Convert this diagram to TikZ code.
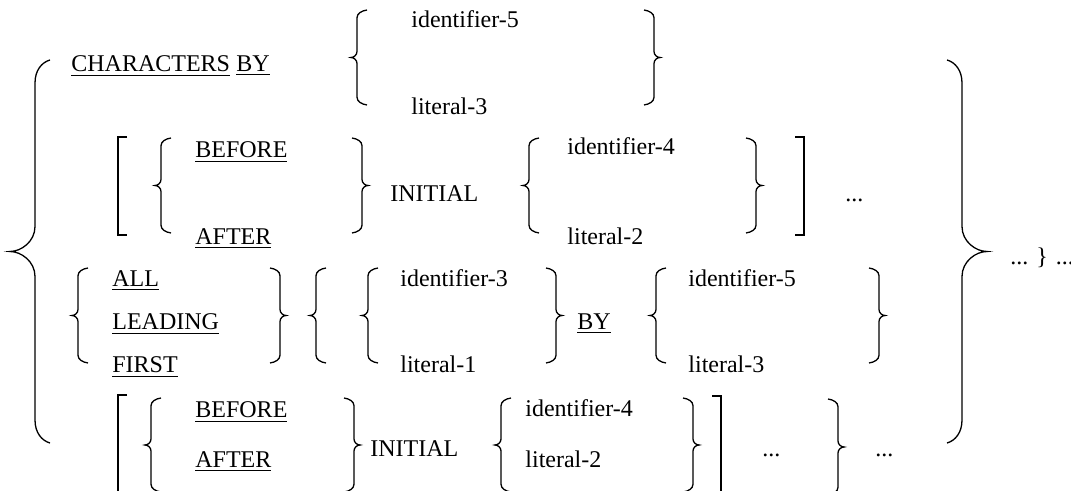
\documentclass[tikz,border=0pt]{standalone}
\usepackage{fontspec}
\setmainfont{Liberation Serif}

% curly brace: tip x, top y, bottom y, side (1 open / -1 close), stem offset, arm length
\newcommand{\curly}[6]{%
  \pgfmathsetmacro{\brS}{#1+#4*#5}%
  \pgfmathsetmacro{\brE}{#1+#4*#6}%
  \pgfmathsetmacro{\brA}{\brS+0.45*(\brE-\brS)}%
  \pgfmathsetmacro{\brT}{#1+0.45*(\brS-#1)}%
  \pgfmathsetmacro{\brM}{(#2+#3)/2}%
  \pgfmathsetmacro{\brC}{0.8*#5+3}%
  \draw[brc] (\brE,#2) .. controls (\brA,{#2+0.1*\brC}) and (\brS,{#2+0.45*\brC}) .. (\brS,{#2+\brC})
    -- (\brS,{\brM-#5}) .. controls (\brS,{\brM-0.4*#5}) and (\brT,\brM) .. (#1,\brM)
    .. controls (\brT,\brM) and (\brS,{\brM+0.4*#5}) .. (\brS,{\brM+#5})
    -- (\brS,{#3-\brC}) .. controls (\brS,{#3-0.45*\brC}) and (\brA,{#3-0.1*\brC}) .. (\brE,#3);}
\newcommand{\cbr}[4]{\curly{#1}{#2}{#3}{#4}{6}{16}}
% square bracket: stem x, top y, bottom y, side
\newcommand{\sqbr}[4]{\draw[brk] ({#1+#4*9},#2) -- (#1,#2) -- (#1,#3) -- ({#1+#4*9},#3);}

\begin{document}
\begin{tikzpicture}[x=0.5pt,y=-0.5pt,
  brc/.style={line width=0.65pt},
  brk/.style={line width=1pt},
  wd/.style={anchor=base west,inner sep=0pt,font=\fontsize{12}{14}\selectfont}]
\clip (0,0) rectangle (1071,491);

% outer braces
\curly{10}{60}{443}{1}{25}{40}
\curly{987}{60}{443}{-1}{25}{40}
\node[wd] (rep) at (1010,265) {... \} ...};

% CHARACTERS BY
\node[wd] (chars) at (71,72) {\underline{CHARACTERS}};
\node[wd] (by1) at (236,72) {\underline{BY}};
\cbr{351}{10}{105}{1}
\node[wd] (id5a) at (411,28) {identifier-5};
\node[wd] (lit3a) at (411,115) {literal-3};
\cbr{660}{10}{105}{-1}

% BEFORE / AFTER INITIAL
\sqbr{118}{137}{235}{1}
\cbr{155}{138}{233}{1}
\node[wd] (bef1) at (195,158) {\underline{BEFORE}};
\node[wd] (aft1) at (195,245) {\underline{AFTER}};
\cbr{368}{138}{233}{-1}
\node[wd] (ini1) at (390,202) {INITIAL};
\cbr{523}{138}{233}{1}
\node[wd] (id4a) at (567,155) {identifier-4};
\node[wd] (lit2a) at (567,245) {literal-2};
\cbr{762}{138}{233}{-1}
\sqbr{804}{137}{235}{-1}
\node[wd] (dots1) at (845,202) {...};

% ALL / LEADING / FIRST
\cbr{72}{268}{363}{1}
\node[wd] (all) at (112,287) {\underline{ALL}};
\node[wd] (lead) at (112,330) {\underline{LEADING}};
\node[wd] (first) at (112,373) {\underline{FIRST}};
\cbr{286}{268}{363}{-1}
\cbr{310}{268}{363}{1}
\cbr{362}{268}{363}{1}
\node[wd] (id3) at (400,287) {identifier-3};
\node[wd] (lit1) at (400,373) {literal-1};
\cbr{562}{268}{363}{-1}
\node[wd] (by2) at (577,330) {\underline{BY}};
\cbr{650}{268}{363}{1}
\node[wd] (id5b) at (688,287) {identifier-5};
\node[wd] (lit3b) at (688,373) {literal-3};
\cbr{885}{268}{363}{-1}

% second BEFORE / AFTER INITIAL
\sqbr{118}{395}{520}{1}
\cbr{145}{398}{492}{1}
\node[wd] (bef2) at (195,418) {\underline{BEFORE}};
\node[wd] (aft2) at (195,468) {\underline{AFTER}};
\cbr{360}{398}{492}{-1}
\node[wd] (ini2) at (370,457) {INITIAL};
\cbr{495}{398}{492}{1}
\node[wd] (id4b) at (525,417) {identifier-4};
\node[wd] (lit2b) at (525,468) {literal-2};
\cbr{699}{398}{492}{-1}
\sqbr{721}{396}{520}{-1}
\node[wd] (dots2) at (762,457) {...};
\cbr{844}{399}{495}{-1}
\node[wd] (dots3) at (875,457) {...};
\end{tikzpicture}
\end{document}
